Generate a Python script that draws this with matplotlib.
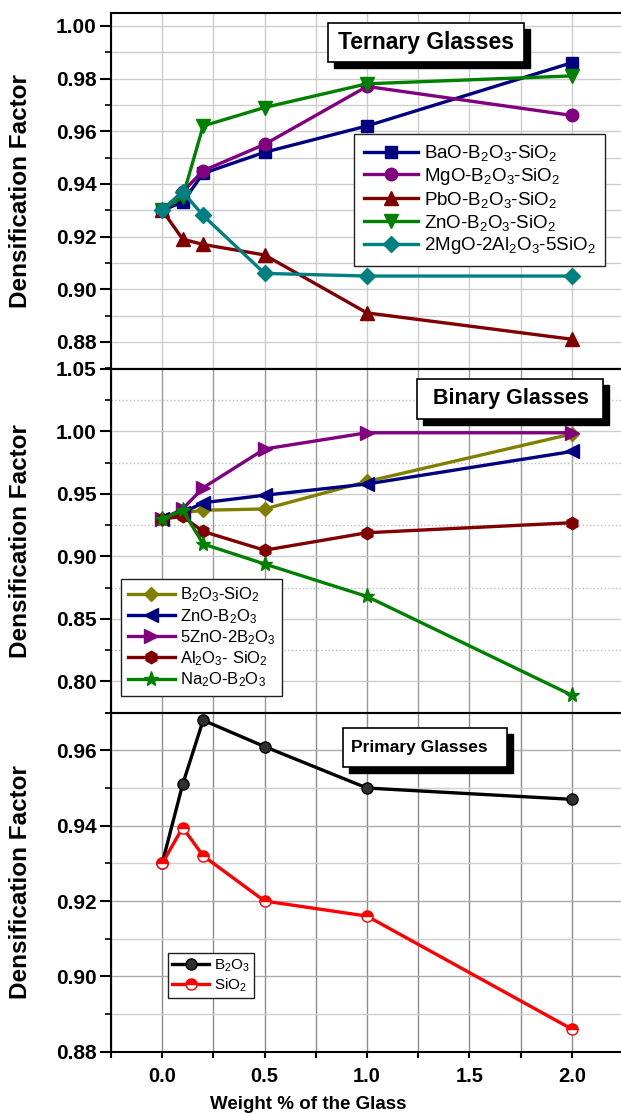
import matplotlib
matplotlib.use('Agg')
import matplotlib.pyplot as plt
import matplotlib.patches as patches
from matplotlib.ticker import MultipleLocator

plt.rcParams['font.family'] = ['Liberation Sans', 'DejaVu Sans']
plt.rcParams['mathtext.default'] = 'regular'

# weight % of the added glass (same for every series)
wt = [0.0, 0.1, 0.2, 0.5, 1.0, 2.0]

# ternary glasses
ternary_labels = ['BaO-B$_2$O$_3$-SiO$_2$', 'MgO-B$_2$O$_3$-SiO$_2$', 'PbO-B$_2$O$_3$-SiO$_2$',
                  'ZnO-B$_2$O$_3$-SiO$_2$', '2MgO-2Al$_2$O$_3$-5SiO$_2$']
bao = [0.930, 0.933, 0.944, 0.952, 0.962, 0.986]
mgo = [0.930, 0.937, 0.945, 0.955, 0.977, 0.966]
pbo = [0.930, 0.919, 0.917, 0.913, 0.891, 0.881]
zno = [0.930, 0.935, 0.962, 0.969, 0.978, 0.981]
cordierite = [0.930, 0.937, 0.928, 0.906, 0.905, 0.905]

# binary glasses
binary_labels = ['B$_2$O$_3$-SiO$_2$', 'ZnO-B$_2$O$_3$', '5ZnO-2B$_2$O$_3$', 'Al$_2$O$_3$- SiO$_2$', 'Na$_2$O-B$_2$O$_3$']
b2o3_sio2 = [0.930, 0.935, 0.937, 0.938, 0.960, 0.998]
zno_b2o3 = [0.930, 0.935, 0.943, 0.949, 0.958, 0.984]
zn5_b2 = [0.930, 0.938, 0.955, 0.986, 0.999, 0.999]
al2o3_sio2 = [0.930, 0.932, 0.920, 0.905, 0.919, 0.927]
na2o_b2o3 = [0.930, 0.937, 0.910, 0.894, 0.868, 0.789]

# primary glasses
primary_labels = ['B$_2$O$_3$', 'SiO$_2$']
b2o3 = [0.930, 0.951, 0.968, 0.961, 0.950, 0.947]
sio2 = [0.930, 0.9395, 0.932, 0.920, 0.916, 0.886]

fig = plt.figure(figsize=(6.21, 11.15), dpi=100)
left, width = 111 / 621, 512 / 621
ax1 = fig.add_axes([left, 1 - 369 / 1115, width, 356.3 / 1115])
ax2 = fig.add_axes([left, 1 - 712.7 / 1115, width, 343.7 / 1115])
ax3 = fig.add_axes([left, 1 - 1051.7 / 1115, width, 339 / 1115])

lw = 2.4
ax1.plot(wt, bao, color='#000080', marker='s', ms=8, lw=lw, label=ternary_labels[0])
ax1.plot(wt, mgo, color='#800080', marker='o', ms=9, lw=lw, label=ternary_labels[1])
ax1.plot(wt, pbo, color='#800000', marker='^', ms=10, lw=lw, label=ternary_labels[2])
ax1.plot(wt, zno, color='#008000', marker='v', ms=10, lw=lw, label=ternary_labels[3])
ax1.plot(wt, cordierite, color='#008080', marker='D', ms=8, lw=lw, label=ternary_labels[4])

ax2.plot(wt, b2o3_sio2, color='#808000', marker='D', ms=7, lw=lw, label=binary_labels[0])
ax2.plot(wt, zno_b2o3, color='#000080', marker='<', ms=9.5, lw=lw, label=binary_labels[1])
ax2.plot(wt, zn5_b2, color='#800080', marker='>', ms=9.5, lw=lw, label=binary_labels[2])
ax2.plot(wt, al2o3_sio2, color='#800000', marker='h', ms=9, lw=lw, label=binary_labels[3])
ax2.plot(wt, na2o_b2o3, color='#008000', marker='*', ms=11, lw=lw, label=binary_labels[4])

ax3.plot(wt, b2o3, color='black', marker='o', ms=8, mfc='#303030', mec='black', lw=lw, label=primary_labels[0])
ax3.plot(wt, sio2, color='red', marker='o', ms=8, fillstyle='top', mfc='red', mfcalt='white',
         mec='red', lw=lw, label=primary_labels[1])

ax1.set_ylim(0.8697, 1.005)
ax1.yaxis.set_major_locator(MultipleLocator(0.02))
ax1.yaxis.set_minor_locator(MultipleLocator(0.01))
ax2.set_ylim(0.775, 1.05)
ax2.yaxis.set_major_locator(MultipleLocator(0.05))
ax2.yaxis.set_minor_locator(MultipleLocator(0.025))
ax3.set_ylim(0.88, 0.97)
ax3.yaxis.set_major_locator(MultipleLocator(0.02))
ax3.yaxis.set_minor_locator(MultipleLocator(0.01))

for ax in (ax1, ax2, ax3):
    ax.set_xlim(-0.25, 2.25)
    ax.xaxis.set_major_locator(MultipleLocator(0.5))
    ax.xaxis.set_minor_locator(MultipleLocator(0.25))
    ax.yaxis.set_major_formatter(matplotlib.ticker.FormatStrFormatter('%.2f'))
    for s in ax.spines.values():
        s.set_linewidth(1.5)
    ax.spines['right'].set_visible(False)
    ax.tick_params(axis='y', which='major', direction='out', length=8, width=1.5, pad=2.5, labelsize=15)
    ax.tick_params(axis='y', which='minor', direction='out', length=4, width=1.2)
    for lab in ax.get_yticklabels():
        lab.set_fontweight('bold')
    ax.set_ylabel('Densification Factor', fontsize=17.5, fontweight='bold')
    ax.yaxis.set_label_coords(-0.154, 0.5)
    ax.set_axisbelow(True)

# grid lines
ax1.grid(True, which='both', axis='both', color='#cccccc', lw=1)
ax2.grid(True, which='both', axis='x', color='#999999', lw=1)
ax2.grid(True, which='major', axis='y', color='#cccccc', lw=1)
ax2.grid(True, which='minor', axis='y', color='#bbbbbb', lw=1, ls=':')
ax3.grid(True, which='both', axis='x', color='#8c8c8c', lw=1)
ax3.grid(True, which='major', axis='y', color='#aaaaaa', lw=1)
ax3.grid(True, which='minor', axis='y', color='#d0d0d0', lw=1)

for ax in (ax1, ax2):
    ax.tick_params(axis='x', which='both', bottom=False, labelbottom=False)
ax3.tick_params(axis='x', which='both', direction='out', length=4, width=1.5, pad=7, labelsize=14.5)
for lab in ax3.get_xticklabels():
    lab.set_fontweight('bold')
ax3.xaxis.set_major_formatter(matplotlib.ticker.FormatStrFormatter('%.1f'))
ax3.set_xlabel('Weight % of the Glass', fontsize=13.5, fontweight='bold')
ax3.xaxis.set_label_coords(0.385, -0.132)

# legends
leg_kw = dict(frameon=True, fancybox=False, framealpha=1, edgecolor='#222222', borderaxespad=0,
              handletextpad=0.3)
l1 = ax1.legend(loc='upper left', bbox_to_anchor=(0.475, 0.66), fontsize=13.5, handlelength=2.9,
                labelspacing=0.15, borderpad=0.5, **leg_kw)
l2 = ax2.legend(loc='lower left', bbox_to_anchor=(0.02, 0.049), fontsize=12, handlelength=2.8,
                labelspacing=0.15, **leg_kw)
l3 = ax3.legend(loc='lower left', bbox_to_anchor=(0.111, 0.158), fontsize=11, handlelength=2.4,
                labelspacing=0.15, borderpad=0.3, **leg_kw)
for l in (l1, l2, l3):
    l.get_frame().set_linewidth(1.0)
    l.set_zorder(10)


# titled boxes with a black drop shadow
def title_box(ax, x, y, w, h, text, tx, size, ha='center'):
    dx, dy = 6 / 512, 6 / (ax.get_position().height * 1115)
    ax.add_patch(patches.Rectangle((x + dx, y - dy), w, h, transform=ax.transAxes,
                                   facecolor='black', edgecolor='black', zorder=11, clip_on=False))
    ax.add_patch(patches.Rectangle((x, y), w, h, transform=ax.transAxes,
                                   facecolor='white', edgecolor='black', lw=1.2, zorder=12, clip_on=False))
    ax.text(tx, y + h / 2, text, transform=ax.transAxes, ha=ha, va='center',
            fontsize=size, fontweight='bold', zorder=13)


title_box(ax1, 0.424, 0.862, 0.383, 0.109, 'Ternary Glasses', 0.616, 16.5)
title_box(ax2, 0.598, 0.855, 0.363, 0.116, 'Binary Glasses', 0.781, 15.5)
title_box(ax3, 0.453, 0.840, 0.320, 0.115, 'Primary Glasses', 0.469, 12.5, ha='left')

fig.savefig('out.png', dpi=100)
